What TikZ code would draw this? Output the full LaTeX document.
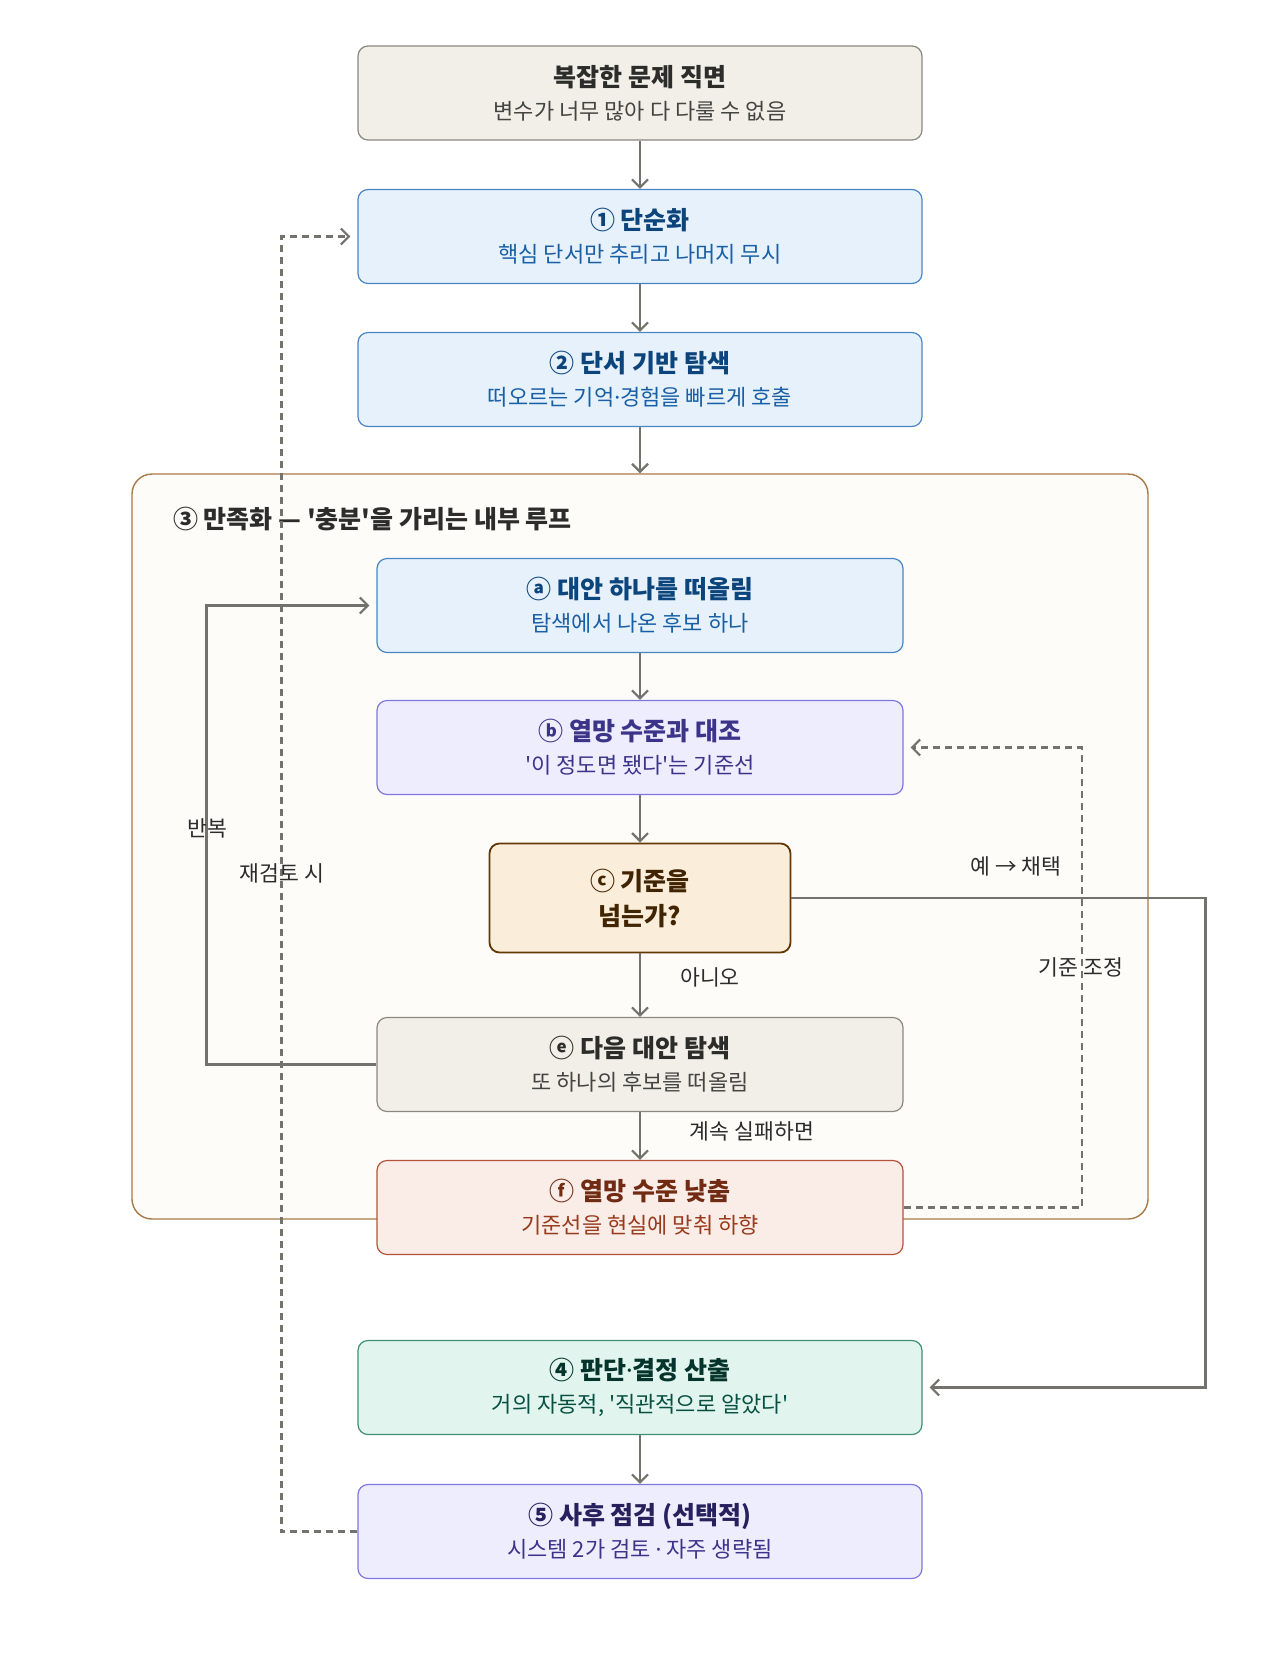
\documentclass[tikz,border=0pt]{standalone}
\usepackage{fontspec}
\setmainfont{Noto Sans CJK KR}[Ligatures=TeXOff]
\newfontfamily\latinfont{Noto Sans}
\usetikzlibrary{arrows.meta}

\definecolor{gfill}{HTML}{F1EFE8}
\definecolor{gline}{HTML}{8A8880}
\definecolor{gtitle}{HTML}{2C2C2A}
\definecolor{gsub}{HTML}{444441}
\definecolor{bfill}{HTML}{E6F1FB}
\definecolor{bline}{HTML}{4A86C5}
\definecolor{btitle}{HTML}{0C447C}
\definecolor{bsub}{HTML}{185FA5}
\definecolor{pfill}{HTML}{EEEDFE}
\definecolor{pline}{HTML}{7F77DD}
\definecolor{ptitle}{HTML}{26215C}
\definecolor{psub}{HTML}{3C3489}
\definecolor{cfill}{HTML}{FAEEDA}
\definecolor{cline}{HTML}{633806}
\definecolor{ctitle}{HTML}{412402}
\definecolor{rfill}{HTML}{FAECE7}
\definecolor{rline}{HTML}{B5533A}
\definecolor{rtitle}{HTML}{712B13}
\definecolor{rsub}{HTML}{993C1D}
\definecolor{tfill}{HTML}{E1F5EE}
\definecolor{tline}{HTML}{3F8F74}
\definecolor{ttitle}{HTML}{04342C}
\definecolor{tsub}{HTML}{085041}
\definecolor{loopfill}{HTML}{FDFCF8}
\definecolor{loopline}{HTML}{A87A45}
\definecolor{arrowgray}{HTML}{73726C}

\newcommand{\boxtxt}[3]{{\color{#1}\fontsize{12.5}{16.5}\selectfont\bfseries #2}\\#3}
\newcommand{\mdot}{{\latinfont ·}}

\tikzset{
	box/.style = {draw, rounded corners=5pt, line width=0.6pt, inner sep=2pt,
		minimum width=282pt, minimum height=47pt, align=center,
		font=\fontsize{11}{16.5}\selectfont},
	inbox/.style = {box, minimum width=263pt},
	neutral/.style = {fill=gfill, draw=gline, text=gsub},
	blue/.style = {fill=bfill, draw=bline, text=bsub},
	purple/.style = {fill=pfill, draw=pline, text=psub},
	amber/.style = {fill=cfill, draw=cline, text=ctitle, line width=0.9pt},
	coral/.style = {fill=rfill, draw=rline, text=rsub},
	teal/.style = {fill=tfill, draw=tline, text=tsub},
	flow/.style = {draw=arrowgray, line width=1.1pt,
		-{Straight Barb[length=4pt,width=8pt,line width=1.1pt]}},
	back/.style = {flow, dash pattern=on 3.5pt off 2.5pt},
	edgelbl/.style = {font=\fontsize{10.8}{13}\selectfont, text=gtitle}
}

\begin{document}
\begin{tikzpicture}[x=0.5pt, y=-0.5pt]
	\useasboundingbox[fill=white] (0,0) rectangle (1280,1656);

	\node[draw=loopline, fill=loopfill, line width=0.7pt, rounded corners=10pt,
		minimum width=508pt, minimum height=372.5pt] (loop) at (640,846.5) {};
	\node[anchor=west, font=\fontsize{12.5}{15}\selectfont\bfseries, text=gtitle]
		(looptitle) at (166,519) {③ 만족화 — '충분'을 가리는 내부 루프};

	\node[box, neutral] (problem) at (640,93)
		{\boxtxt{gtitle}{복잡한 문제 직면}{변수가 너무 많아 다 다룰 수 없음}};
	\node[box, blue] (simplify) at (640,236.5)
		{\boxtxt{btitle}{① 단순화}{핵심 단서만 추리고 나머지 무시}};
	\node[box, blue] (cuesearch) at (640,379.5)
		{\boxtxt{btitle}{② 단서 기반 탐색}{떠오르는 기억\mdot 경험을 빠르게 호출}};

	\node[inbox, blue] (recall) at (640,605.5)
		{\boxtxt{btitle}{ⓐ 대안 하나를 떠올림}{탐색에서 나온 후보 하나}};
	\node[inbox, purple] (compare) at (640,747.5)
		{\boxtxt{psub}{ⓑ 열망 수준과 대조}{'이 정도면 됐다'는 기준선}};
	\node[box, amber, minimum width=150.5pt, minimum height=54.5pt,
		font=\fontsize{12.5}{17.5}\selectfont\bfseries] (check) at (640,898)
		{ⓒ 기준을\\넘는가?};
	\node[inbox, neutral] (nextalt) at (640,1064.5)
		{\boxtxt{gtitle}{ⓔ 다음 대안 탐색}{또 하나의 후보를 떠올림}};
	\node[inbox, coral] (lower) at (640,1207.5)
		{\boxtxt{rtitle}{ⓕ 열망 수준 낮춤}{기준선을 현실에 맞춰 하향}};

	\node[box, teal] (decide) at (640,1387.5)
		{\boxtxt{ttitle}{④ 판단\mdot 결정 산출}{거의 자동적, '직관적으로 알았다'}};
	\node[box, purple] (review) at (640,1531.5)
		{\boxtxt{ptitle}{⑤ 사후 점검 (선택적)}{시스템 2가 검토 \mdot\ 자주 생략됨}};

	\draw[flow] (problem) -- (simplify);
	\draw[flow] (simplify) -- (cuesearch);
	\draw[flow] (cuesearch) -- (loop.north);
	\draw[flow] (recall) -- (compare);
	\draw[flow] (compare) -- (check);
	\draw[flow] (check) -- (nextalt);
	\draw[flow] (nextalt) -- (lower);
	\draw[flow] (decide) -- (review);

	\draw[flow, shorten >=3.5pt] (nextalt.west) -- ++(-170,0) |- (recall.west);
	\draw[flow, shorten >=3.5pt] (check.east) -- ++(414,0) |- (decide.east);
	\draw[back, shorten >=3.5pt] (lower.east) -- ++(178,0) |- (compare.east);
	\draw[back, shorten >=3.5pt] (review.west) -- ++(-76,0) |- (simplify.west);

	\node[edgelbl] (repeatlbl) at (207,828) {반복};
	\node[edgelbl] (recheck) at (282,873) {재검토 시};
	\node[edgelbl] (yeslbl) at (1016,866) {예 → 채택};
	\node[edgelbl] (adjust) at (1081,967) {기준 조정};
	\node[edgelbl] (nolbl) at (710,977) {아니오};
	\node[edgelbl] (faillbl) at (752,1131) {계속 실패하면};
\end{tikzpicture}
\end{document}
